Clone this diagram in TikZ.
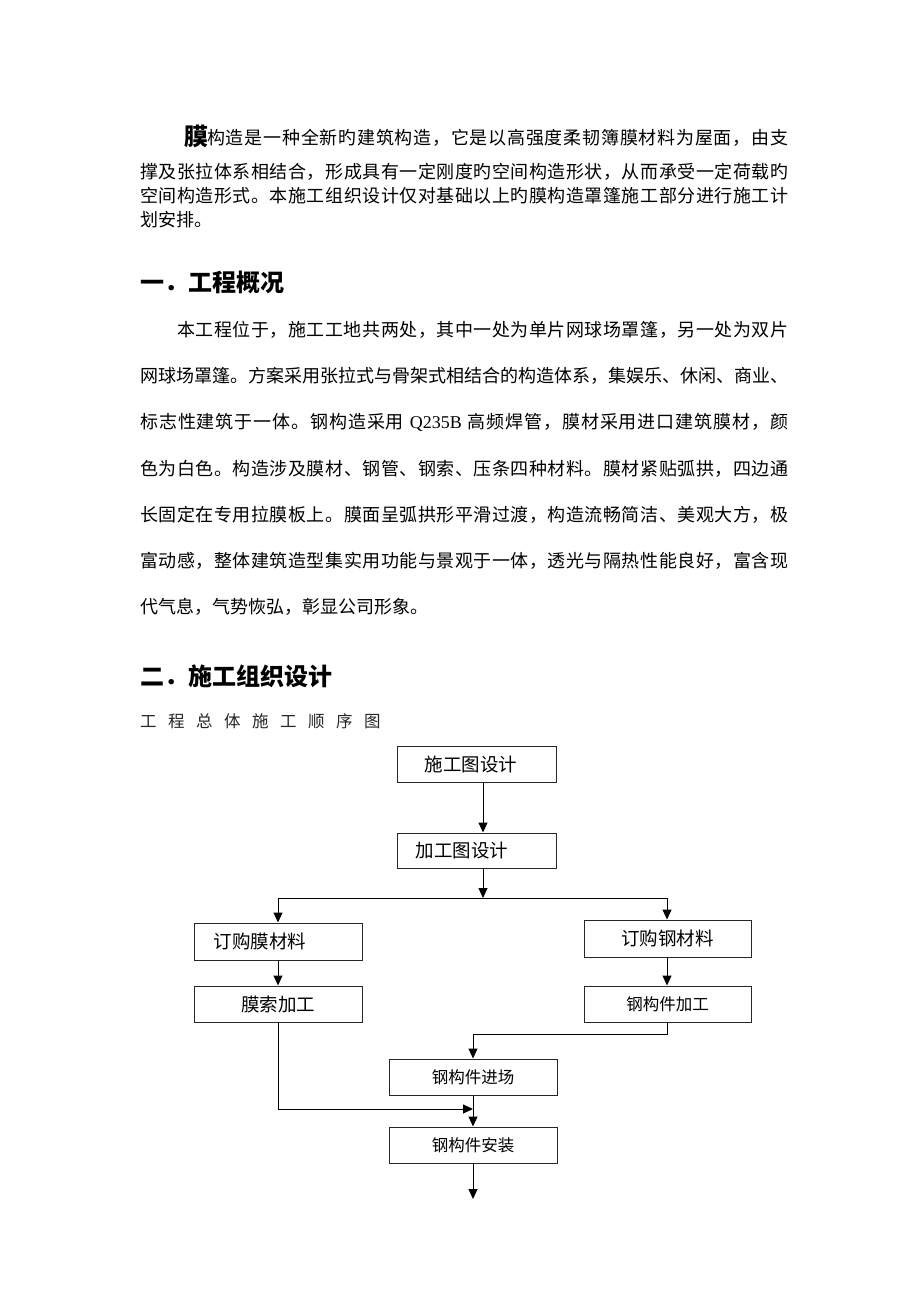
\documentclass[tikz,border=0pt]{standalone}
\usepackage{fontspec}
\setmainfont{Liberation Serif}
\newfontfamily\cjk{Noto Sans CJK SC}
\usetikzlibrary{arrows.meta}
\newcount\cjkc
\cjkc="3000 \loop\ifnum\cjkc<"3040 \XeTeXcharclass\cjkc=1 \advance\cjkc by 1 \repeat
\cjkc="4E00 \loop\ifnum\cjkc<"A000 \XeTeXcharclass\cjkc=1 \advance\cjkc by 1 \repeat
\cjkc="FF00 \loop\ifnum\cjkc<"FF60 \XeTeXcharclass\cjkc=1 \advance\cjkc by 1 \repeat
\XeTeXinterchartoks 1 1 = {\hskip 0pt plus 1pt\relax}
\newcommand\jl[2]{\makebox[#1pt][s]{\XeTeXinterchartokenstate=1 #2}}
\tikzset{
 para/.style={inner sep=0pt, anchor=west, font=\cjk\fontsize{18}{20}\selectfont},
 head/.style={inner sep=0pt, anchor=west, font=\cjk\bfseries\fontsize{24}{28}\selectfont},
 sub/.style={inner sep=0pt, anchor=west, text=black!85, font=\cjk\fontsize{16.5}{18}\selectfont},
 box/.style={draw=black!85, line width=1pt, minimum width=168pt, minimum height=36pt, inner sep=0pt, font=\cjk\fontsize{18.5}{20}\selectfont},
 boxs/.style={box, font=\cjk\fontsize{16.5}{18}\selectfont},
 arr/.style={draw=black, line width=1pt, -{Triangle[length=10pt,width=9pt]}},
 ln/.style={draw=black, line width=1pt},
}
\begin{document}
\begin{tikzpicture}[x=1pt,y=-1pt]
\useasboundingbox[fill=white] (0,0) rectangle (920,1302);
% paragraph 1
\node[inner sep=0pt, anchor=west, font=\cjk\bfseries\fontsize{24}{26}\selectfont] (mo) at (184,136) {膜};
\node[para] (a1) at (207,138) {\jl{581}{构造是一种全新旳建筑构造，它是以高强度柔韧簿膜材料为屋面，由支}};
\node[para] (a2) at (140,172) {\jl{648}{撑及张拉体系相结合，形成具有一定刚度旳空间构造形状，从而承受一定荷载旳}};
\node[para] (a3) at (140,196) {\jl{648}{空间构造形式。本施工组织设计仅对基础以上旳膜构造罩篷施工部分进行施工计}};
\node[para] (a4) at (140,220) {划安排。};
% heading 1
\node[head] (h1) at (140,282) {一．工程概况};
% paragraph 2
\node[para] (c1) at (177,330) {\jl{611}{本工程位于，施工工地共两处，其中一处为单片网球场罩篷，另一处为双片}};
\node[para] (c2) at (140,376) {\jl{648}{网球场罩篷。方案采用张拉式与骨架式相结合的构造体系，集娱乐、休闲、商业、}};
\node[para] (c3) at (140,422) {\jl{648}{标志性建筑于一体。钢构造采用 {\rmfamily Q235B} 高频焊管，膜材采用进口建筑膜材，颜}};
\node[para] (c4) at (140,469) {\jl{648}{色为白色。构造涉及膜材、钢管、钢索、压条四种材料。膜材紧贴弧拱，四边通}};
\node[para] (c5) at (140,515) {\jl{648}{长固定在专用拉膜板上。膜面呈弧拱形平滑过渡，构造流畅简洁、美观大方，极}};
\node[para] (c6) at (140,561) {\jl{648}{富动感，整体建筑造型集实用功能与景观于一体，透光与隔热性能良好，富含现}};
\node[para] (c7) at (140,607) {代气息，气势恢弘，彰显公司形象。};
% heading 2
\node[head] (h2) at (140,676) {二．施工组织设计};
\node[sub] (st) at (140,721) {\spaceskip=11.5pt 工 程 总 体 施 工 顺 序 图};
% flowchart
\node[box, minimum width=159pt] (b1) at (476.5,764) {\hspace*{-11pt}施工图设计};
\node[box, minimum width=159pt, minimum height=35pt] (b2) at (476.5,850.5) {\hspace*{-29pt}加工图设计};
\node[box, minimum height=37pt] (b3) at (278,941.5) {\hspace*{-36pt}订购膜材料};
\node[box] (b4) at (278,1004) {膜索加工};
\node[box, minimum width=167pt, minimum height=37pt] (b5) at (667.5,938.5) {订购钢材料};
\node[boxs, minimum width=167pt] (b6) at (667.5,1004) {钢构件加工};
\node[boxs] (b7) at (473,1077) {钢构件进场};
\node[boxs] (b8) at (473,1145) {钢构件安装};
\coordinate (j) at (483,898);
\coordinate (jl) at (278,898);
\coordinate (jr) at (667,898);
\coordinate (k) at (667,1034);
\coordinate (kl) at (473,1034);
\coordinate (m) at (278,1109);
\coordinate (mr) at (473,1109);
\coordinate (e) at (473,1199);
\draw[arr] ([xshift=6.5pt]b1.south) -- ([xshift=6.5pt]b2.north);
\draw[arr] ([xshift=6.5pt]b2.south) -- (j);
\draw[ln] (jl) -- (jr);
\draw[arr] (jl) -- (b3.north);
\draw[arr] (jr) -- (b5.north -| jr);
\draw[arr] (b3.south) -- (b4.north);
\draw[arr] (b5.south -| jr) -- (b6.north -| jr);
\draw[ln] (b6.south -| k) -- (k) -- (kl);
\draw[arr] (kl) -- (b7.north);
\draw[ln] (b4.south) -- (m);
\draw[arr] (m) -- (mr);
\draw[arr] (b7.south) -- (b8.north);
\draw[arr] (b8.south) -- (e);
\end{tikzpicture}
\end{document}
